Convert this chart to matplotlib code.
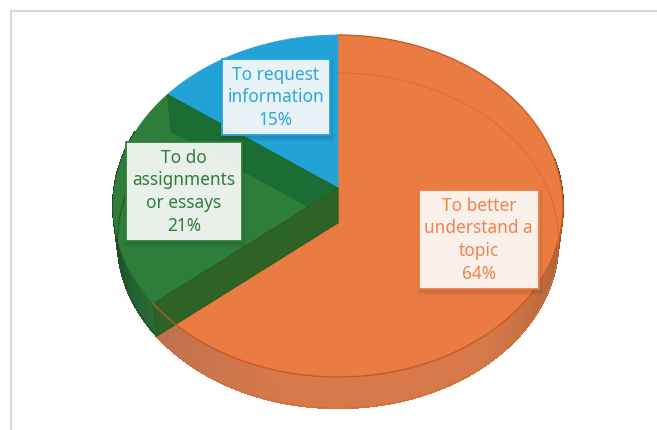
import numpy as np
import matplotlib
matplotlib.use("Agg")
import matplotlib.pyplot as plt
from matplotlib.collections import PolyCollection
from matplotlib.colors import LinearSegmentedColormap
from matplotlib.patches import Polygon, Rectangle

# ---- data
categories = ["To better\nunderstand a\ntopic", "To do\nassignments\nor essays", "To request\ninformation"]
shares = [64, 21, 15]
pct_labels = ["64%", "21%", "15%"]
top_colors = ["#EA7C43", "#2F7D3B", "#22A3D8"]
edge_colors = ["#C4591D", "#1F6A2E", "#1C8FC2"]
text_colors = ["#EE8450", "#2F7D3B", "#2FA5DB"]

# ---- projection of the tilted disc
CX, APEX_TOP, APEX_BOTTOM = 338.0, 188.0, 223.0
K, A, C = 223.7, -149.3, 0.10526
BOTTOM_SCALE = 0.98


def top_pts(theta):
    """theta in degrees clockwise from 12 o'clock"""
    t = np.radians(theta)
    u, v = np.sin(t), np.cos(t)
    w = 1 + C * v
    return np.column_stack([CX + K * u / w, (A * v + APEX_TOP) / w])


def bottom_pts(theta):
    p = top_pts(theta)
    return np.column_stack([CX + (p[:, 0] - CX) * BOTTOM_SCALE,
                            APEX_BOTTOM + (p[:, 1] - APEX_TOP) * BOTTOM_SCALE])


def arc(a, b, n=200):
    return np.linspace(a, b, n)


fig = plt.figure(figsize=(6.57, 4.30), dpi=100)
ax = fig.add_axes([0, 0, 1, 1])
ax.set_xlim(0, 657)
ax.set_ylim(430, 0)
ax.axis("off")

# frame of the original chart
ax.plot([657, 10.5, 10.5], [10.5, 10.5, 430], color="#D9D9D9", lw=1.5, solid_joinstyle="miter")

cum = np.cumsum([0] + shares) * 3.6
starts, ends = cum[:-1], cum[1:]
O_END, G_END = ends[0], ends[1]


def wall(a, b, cmap, val):
    th = arc(a, b, 300)
    T, B = top_pts(th), bottom_pts(th)
    quads = [[T[i], T[i + 1], B[i + 1], B[i]] for i in range(len(th) - 1)]
    cols = [cmap(val((th[i] + th[i + 1]) / 2)) for i in range(len(th) - 1)]
    ax.add_collection(PolyCollection(quads, facecolors=cols, edgecolors=cols, linewidths=0.8,
                                     antialiased=False, zorder=2))


orange_cm = LinearSegmentedColormap.from_list(
    "o", [(0, "#3F2B20"), (0.10, "#6B4429"), (0.22, "#B5683A"), (0.42, "#D8794A"),
          (0.75, "#D8794A"), (1, "#BF7050")])
green_cm = LinearSegmentedColormap.from_list("g", ["#2C6B36", "#1F5C2E", "#1B3F26"])
wall(80, O_END, orange_cm, lambda t: (t - 80) / (O_END - 80))
wall(O_END, 290, green_cm, lambda t: np.clip((t - O_END) / 35, 0, 1))

# top faces
for s, e, c in zip(starts, ends, top_colors):
    pts = np.vstack([[CX, APEX_TOP], top_pts(arc(s, e))])
    ax.add_patch(Polygon(pts, closed=True, facecolor=c, edgecolor=c, lw=0.5, zorder=3))

# bottom rim seen through the translucent faces
for s, e, c, a in zip(starts, ends, edge_colors, [0.38, 0.22, 0.35]):
    pts = bottom_pts(arc(s, e))
    keep = (pts[:, 1] < 225) | (s > 200)
    ax.plot(pts[keep, 0], pts[keep, 1], color=c, lw=0.8, alpha=a, zorder=4)

# inner walls seen through the faces
a1, a2 = np.array([O_END]), np.array([G_END])
ax.add_patch(Polygon(np.vstack([[CX, APEX_TOP], top_pts(a2), bottom_pts(a2), [CX, APEX_BOTTOM]]),
                     closed=True, facecolor="#1A6E33", edgecolor="#1A6A30", lw=0.6, zorder=5))
ax.add_patch(Polygon(np.vstack([[CX, APEX_TOP], top_pts(a1), bottom_pts(a1), [CX, APEX_BOTTOM]]),
                     closed=True, facecolor="#2D6426", edgecolor="#275A22", lw=0.6, zorder=5))

# rims
p = top_pts(arc(0, O_END))
ax.plot(p[:, 0], p[:, 1], color="#C4591D", lw=0.9, zorder=6)
b = bottom_pts(arc(80, O_END))
ax.plot(b[:, 0], b[:, 1], color="#D0703A", lw=0.8, zorder=6)
b = bottom_pts(arc(O_END, 290))
ax.plot(b[:, 0], b[:, 1], color="#1F4F2A", lw=0.6, zorder=6)

# data labels
boxes = [(418.5, 189.5, 120.5, 99.5), (125.5, 141.5, 116.5, 99.5), (221.5, 58.5, 108.5, 76.5)]
for cat, pct, box, ec, tc in zip(categories, pct_labels, boxes, top_colors, text_colors):
    x, y, w, h = box
    for grow, al in [(3, 0.03), (1.5, 0.04), (0, 0.05)]:
        ax.add_patch(Rectangle((x + 1 - grow, y + 3 - grow), w + 2 * grow, h + 2 * grow,
                               facecolor="black", alpha=al, lw=0, zorder=7))
    ax.add_patch(Rectangle((x, y), w, h, facecolor="white", alpha=0.90, lw=0, zorder=8))
    ax.add_patch(Rectangle((x, y), w, h, fill=False, edgecolor=ec, lw=1.3, zorder=9))
    ax.text(x + w / 2, y + h / 2 + 0.5, cat + "\n" + pct, ha="center", va="center", color=tc,
            family="Noto Sans", fontsize=12.4, linespacing=1.33, zorder=10)

fig.savefig("out.png", dpi=100, facecolor="white")
